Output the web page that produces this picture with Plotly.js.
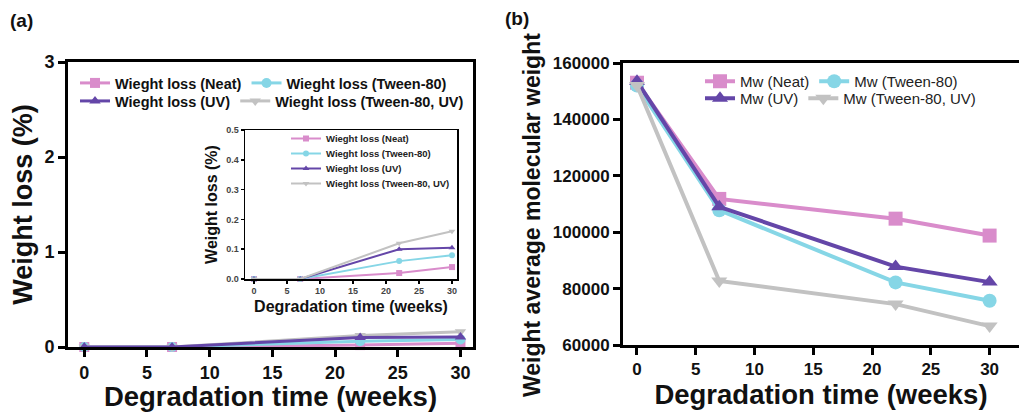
<!DOCTYPE html>
<html>
<head>
<meta charset="utf-8">
<script src="https://cdn.plot.ly/plotly-3.0.1.min.js"></script>
<style>html,body{margin:0;padding:0;background:#fff;}#chart{width:1019px;height:412px;}</style>
</head>
<body>
<div id="chart"></div>
<script>
// ---- data ----
const weeks = [0, 7, 22, 30];
const lossNeat = [0, 0, 0.02, 0.04];
const lossTween = [0, 0, 0.06, 0.08];
const lossUV = [0, 0, 0.10, 0.105];
const lossTweenUV = [0, 0, 0.12, 0.16];
const mwNeat = [153000, 111800, 104800, 98800];
const mwTween = [152000, 107800, 82200, 75700];
const mwUV = [153500, 109000, 87800, 82300];
const mwTweenUV = [152000, 82700, 74500, 66700];
const lossNames = ['Wieght loss (Neat)', 'Wieght loss (Tween-80)', 'Wieght loss (UV)', 'Wieght loss (Tween-80, UV)'];
const mwNames = ['Mw (Neat)', 'Mw (Tween-80)', 'Mw (UV)', 'Mw (Tween-80, UV)'];

const colors = ['#d98ccb', '#86d6e6', '#6446a8', '#c2c2c2'];
const symbols = ['square', 'circle', 'triangle-up', 'triangle-down'];
const lossSeries = [lossNeat, lossTween, lossUV, lossTweenUV];
const mwSeries = [mwNeat, mwTween, mwUV, mwTweenUV];

const FONT = 'Liberation Sans, Arial, sans-serif';
const W = 1019, H = 412;
const px = v => v / W;
const py = v => 1 - v / H;

const traces = [];
// Panel (a) main (UV drawn last so its triangles sit on top)
[0, 1, 3, 2].forEach(i => {
  traces.push({
    x: weeks, y: lossSeries[i], name: lossNames[i], type: 'scatter', mode: 'lines+markers',
    xaxis: 'x', yaxis: 'y', cliponaxis: false,
    legend: i < 2 ? 'legend' : 'legend2', legendrank: i + 1,
    line: {color: colors[i], width: 3},
    marker: {color: colors[i], symbol: symbols[i], size: 10}
  });
});
// Panel (a) inset (one legend per row to get tight spacing)
const insetLegends = ['legend3', 'legend6', 'legend7', 'legend8'];
lossSeries.forEach((ys, i) => {
  traces.push({
    x: weeks, y: ys, name: lossNames[i], type: 'scatter', mode: 'lines+markers',
    xaxis: 'x3', yaxis: 'y3', cliponaxis: false,
    legend: insetLegends[i],
    line: {color: colors[i], width: 2},
    marker: {color: colors[i], symbol: symbols[i], size: 6}
  });
});
// Panel (b)
mwSeries.forEach((ys, i) => {
  traces.push({
    x: weeks, y: ys, name: mwNames[i], type: 'scatter', mode: 'lines+markers',
    xaxis: 'x2', yaxis: 'y2', cliponaxis: false,
    legend: i < 2 ? 'legend4' : 'legend5',
    line: {color: colors[i], width: 4},
    marker: {color: colors[i], symbol: symbols[i], size: 14}
  });
});

const bigAxis = {
  showline: true, linecolor: '#000', linewidth: 3, mirror: true,
  ticks: 'outside', ticklen: 7, tickwidth: 3, tickcolor: '#000',
  showgrid: false, zeroline: false, fixedrange: true,
  tickfont: {family: FONT, size: 18, color: '#111', weight: 'bold'}
};
const smallAxis = {
  showline: true, linecolor: '#000', linewidth: 1.5, mirror: true,
  ticks: 'outside', ticklen: 3, tickwidth: 1.5, tickcolor: '#000',
  showgrid: false, zeroline: false, fixedrange: true,
  tickfont: {family: FONT, size: 9, color: '#444', weight: 'bold'}
};

const legBase = {
  orientation: 'h', xanchor: 'left', yanchor: 'top', bgcolor: 'rgba(0,0,0,0)',
  borderwidth: 0, tracegroupgap: 0
};
const fA = {family: FONT, size: 14.5, color: '#111', weight: 'bold'};
const fIn = {family: FONT, size: 9.5, color: '#222', weight: 'bold'};
const fB = {family: FONT, size: 15, color: '#222'};

const layout = {
  width: W, height: H,
  margin: {l: 0, r: 0, t: 0, b: 0},
  paper_bgcolor: '#fff', plot_bgcolor: '#fff',
  font: {family: FONT, color: '#111'},
  xaxis: Object.assign({}, bigAxis, {
    domain: [px(68), px(473)], range: [-1.3, 31], anchor: 'y',
    tickvals: [0, 5, 10, 15, 20, 25, 30],
    title: {text: 'Degradation time (weeks)', standoff: 0,
            font: {family: FONT, size: 27.5, color: '#111', weight: 'bold'}}
  }),
  yaxis: Object.assign({}, bigAxis, {
    domain: [py(347), py(62)], range: [0, 3], anchor: 'x',
    tickvals: [0, 1, 2, 3],
    title: {text: 'Weight loss (%)', standoff: 4,
            font: {family: FONT, size: 27, color: '#111', weight: 'bold'}}
  }),
  xaxis2: Object.assign({}, bigAxis, {
    domain: [px(623), px(1019)], range: [-1.19, 32.5], anchor: 'y2',
    tickvals: [0, 5, 10, 15, 20, 25, 30],
    tickfont: {family: FONT, size: 17, color: '#111', weight: 'bold'},
    title: {text: 'Degradation time (weeks)', standoff: 3,
            font: {family: FONT, size: 27.5, color: '#111', weight: 'bold'}}
  }),
  yaxis2: Object.assign({}, bigAxis, {
    domain: [py(345), py(63)], range: [60000, 160000], anchor: 'x2',
    tickvals: [60000, 80000, 100000, 120000, 140000, 160000],
    tickformat: 'd',
    tickfont: {family: FONT, size: 17, color: '#111', weight: 'bold'}
  }),
  xaxis3: Object.assign({}, smallAxis, {
    domain: [px(245), px(457)], range: [-1.36, 30.76], anchor: 'y3',
    tickvals: [0, 5, 10, 15, 20, 25, 30],
    title: {text: 'Degradation time (weeks)', standoff: 5,
            font: {family: FONT, size: 16, color: '#111', weight: 'bold'}}
  }),
  yaxis3: Object.assign({}, smallAxis, {
    domain: [py(279), py(130)], range: [0, 0.5], anchor: 'x3',
    tickvals: [0, 0.1, 0.2, 0.3, 0.4, 0.5], tickformat: '.1f',
    title: {text: 'Weight loss (%)', standoff: 4,
            font: {family: FONT, size: 16, color: '#111', weight: 'bold'}}
  }),
  legend: Object.assign({}, legBase, {x: px(75), y: py(67), font: fA}),
  legend2: Object.assign({}, legBase, {x: px(75), y: py(85), font: fA}),
  legend3: Object.assign({}, legBase, {x: px(286), y: py(124), font: fIn}),
  legend6: Object.assign({}, legBase, {x: px(286), y: py(139), font: fIn}),
  legend7: Object.assign({}, legBase, {x: px(286), y: py(154), font: fIn}),
  legend8: Object.assign({}, legBase, {x: px(286), y: py(169), font: fIn}),
  legend4: Object.assign({}, legBase, {x: px(700), y: py(65), font: fB}),
  legend5: Object.assign({}, legBase, {x: px(700), y: py(82), font: fB}),
  annotations: [
    {text: '(a)', x: px(8), y: py(21), xref: 'paper', yref: 'paper', xanchor: 'left', yanchor: 'middle',
     showarrow: false, font: {family: FONT, size: 19, color: '#111', weight: 'bold'}},
    {text: '(b)', x: px(503), y: py(19), xref: 'paper', yref: 'paper', xanchor: 'left', yanchor: 'middle',
     showarrow: false, font: {family: FONT, size: 19, color: '#111', weight: 'bold'}},
    {text: 'Weight average molecular weight', x: px(532), y: py(215), xref: 'paper', yref: 'paper',
     xanchor: 'center', yanchor: 'middle', textangle: -90, showarrow: false,
     font: {family: FONT, size: 23, color: '#111', weight: 'bold'}}
  ],
  showlegend: true
};

Plotly.newPlot('chart', traces, layout, {displayModeBar: false, staticPlot: true});
</script>
</body>
</html>
